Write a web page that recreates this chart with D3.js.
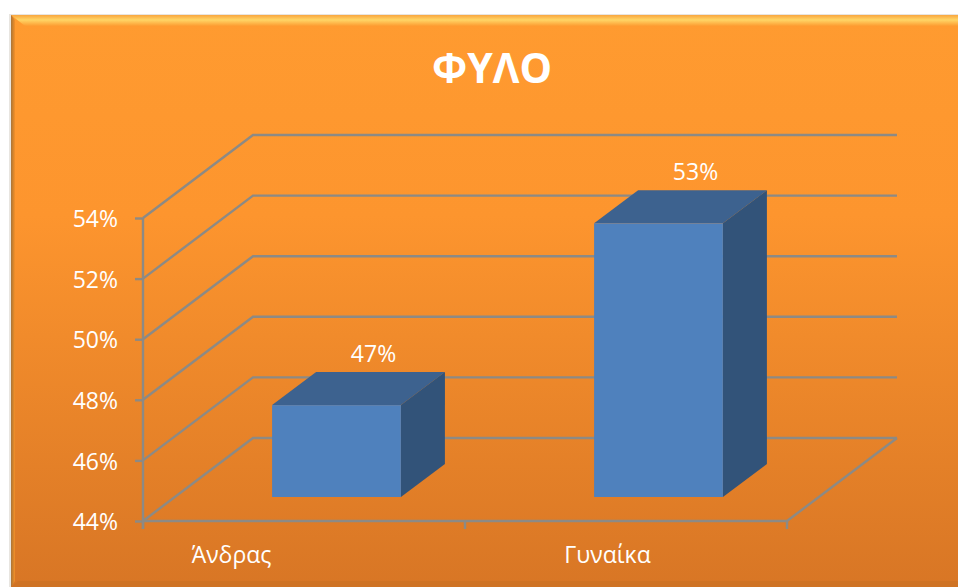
<!DOCTYPE html>
<html><head><meta charset="utf-8">
<script src="https://cdn.jsdelivr.net/npm/d3@7"></script>
<style>html,body{margin:0;padding:0;background:#fff;overflow:hidden}svg{display:block}text{font-family:"Open Sans","Noto Sans",sans-serif;fill:#fff}</style>
</head><body><div id="c"></div>
<script>
const chartTitle = "ΦΥΛΟ";
const categories = ["Άνδρας","Γυναίκα"];
const values = [47,53];
const yTicks = [44,46,48,50,52,54];

const W=958,H=587;
const svg=d3.select("#c").append("svg").attr("width",W).attr("height",H);
const defs=svg.append("defs");
const g=defs.append("linearGradient").attr("id","bg").attr("x1",0).attr("y1",0).attr("x2",0).attr("y2",1);
[[0,"#ff9b30"],[0.35,"#fd952e"],[1,"#d87625"]].forEach(([o,c])=>g.append("stop").attr("offset",o).attr("stop-color",c));
const hi=defs.append("linearGradient").attr("id","hi").attr("x1",0).attr("y1",0).attr("x2",0).attr("y2",1);
[[0,"#f9a63f"],[0.45,"#ffd566"],[1,"#fd9c31"]].forEach(([o,c])=>hi.append("stop").attr("offset",o).attr("stop-color",c));
const sh=defs.append("linearGradient").attr("id","sh").attr("x1",0).attr("y1",0).attr("x2",1).attr("y2",0);
[[0,"#a9743a"],[0.4,"#c9802e"],[1,"#f59029"]].forEach(([o,c])=>sh.append("stop").attr("offset",o).attr("stop-color",c));

const L=11,T=15;
svg.append("rect").attr("x",L-2).attr("y",T-1).attr("width",W).attr("height",H).attr("fill","#d9d3cc").attr("opacity",.6);
svg.append("rect").attr("x",L).attr("y",T).attr("width",W-L).attr("height",H-T).attr("fill","url(#bg)");
svg.append("path").attr("d",`M${L},${T}H${W}V${T+11}H${L+14}Z`).attr("fill","url(#hi)");
svg.append("path").attr("d",`M${L},${T}L${L+4},${T+5}V${H-6}L${L},${H}Z`).attr("fill","url(#sh)");
svg.append("path").attr("d",`M${L},${H}L${L+7},${H-6}H${W}V${H}Z`).attr("fill","#cf7324");

const dx=110,dy=83,barDx=44,barDy=33,inset=24;
const y=d3.scaleLinear().domain([44,54]).range([521,218]);
const x=d3.scaleBand().domain(categories).range([143,787]);
const xLabel=d3.scalePoint().domain(categories).range([231,607]);
const grey="#8c8a85";
const fontSize=23;

const root=svg.append("g");
root.append("g").selectAll("path").data(yTicks).join("path")
 .attr("d",t=>`M143,${y(t)}L${143+dx},${y(t)-dy}H${787+dx}`)
 .attr("fill","none").attr("stroke",grey).attr("stroke-width",2.4);
root.append("path").attr("d",`M143,${y(44)}H787L${787+dx},${y(44)-dy}`).attr("fill","none").attr("stroke",grey).attr("stroke-width",2.4);

const ya=root.append("g").attr("transform","translate(143,0)").call(d3.axisLeft(y).tickValues(yTicks).tickFormat(d=>d+"%").tickSize(8).tickPadding(17));
ya.select(".domain").remove();
ya.selectAll("line").attr("stroke",grey).attr("stroke-width",2.4);
ya.selectAll("text").attr("font-size",fontSize).attr("fill","#fff").style("font-family",'"Open Sans",sans-serif').attr("dy","0.38em");
root.append("line").attr("x1",143).attr("x2",143).attr("y1",y(54)).attr("y2",529).attr("stroke",grey).attr("stroke-width",2.4);

const xa=root.append("g").attr("transform",`translate(0,${y(44)})`).call(d3.axisBottom(xLabel).tickSize(0).tickPadding(26));
xa.select(".domain").remove();
xa.selectAll("text").attr("font-size",fontSize).attr("fill","#fff").style("font-family",'"Open Sans",sans-serif');
root.append("g").selectAll("line").data([143,x(categories[1]),787]).join("line")
 .attr("x1",d=>d).attr("x2",d=>d).attr("y1",y(44)).attr("y2",529).attr("stroke",grey).attr("stroke-width",2.4);

const insetX=inset*dx/dy;
const bw=x.bandwidth()*0.4;
const bars=root.append("g").selectAll("g").data(values).join("g");
const fx=(d,i)=>x(categories[i])+insetX+(x.bandwidth()-bw)/2+0.7;
const by=y(44)-inset;
const ty=d=>y(d)-inset-1;
bars.append("path").attr("d",(d,i)=>{const a=fx(d,i);return `M${a},${ty(d)}l${barDx},${-barDy}h${bw}l${-barDx},${barDy}Z`}).attr("fill","#3d628f");
bars.append("path").attr("d",(d,i)=>{const a=fx(d,i)+bw;return `M${a},${ty(d)}l${barDx},${-barDy}V${by-barDy}L${a},${by}Z`}).attr("fill","#325379");
bars.append("rect").attr("x",fx).attr("y",ty).attr("width",bw).attr("height",d=>by-ty(d)).attr("fill","#4f81bd");
bars.append("text").attr("x",(d,i)=>fx(d,i)+bw/2+barDx-7).attr("y",d=>ty(d)-barDy-18).attr("dy","0.35em").attr("text-anchor","middle").attr("font-size",fontSize).text(d=>d+"%");

svg.append("text").attr("x",492).attr("y",68).attr("dy","0.36em").attr("text-anchor","middle").attr("font-size",41).attr("font-weight",700).text(chartTitle);
</script></body></html>
